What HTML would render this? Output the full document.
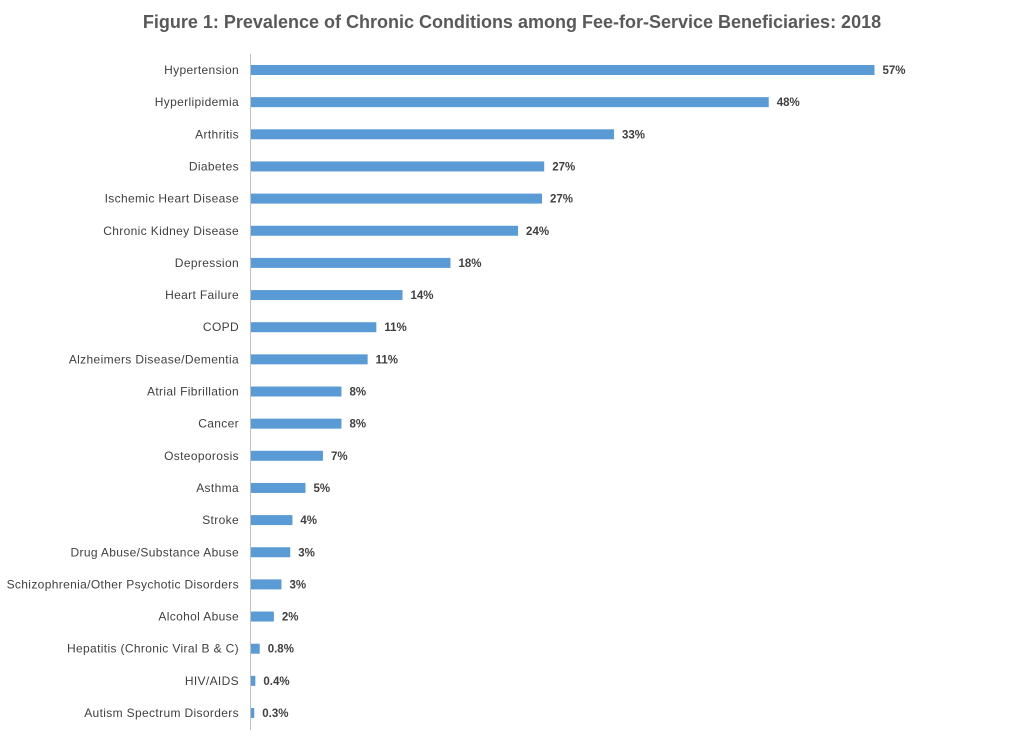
<!DOCTYPE html>
<html><head><meta charset="utf-8"><style>
html,body{margin:0;padding:0;background:#fff;}
svg{display:block;font-family:"Liberation Sans",sans-serif;}
</style></head><body>
<svg id="chart" width="1024" height="743">
<text x="512" y="28" text-anchor="middle" font-size="18" font-weight="bold" fill="#595959">Figure 1: Prevalence of Chronic Conditions among Fee-for-Service Beneficiaries: 2018</text>
<line x1="250.5" y1="54" x2="250.5" y2="730" stroke="#bfbfbf" stroke-width="1"/>
<g id="bars"></g>
</svg>
<script>
const categories=["Hypertension","Hyperlipidemia","Arthritis","Diabetes","Ischemic Heart Disease","Chronic Kidney Disease","Depression","Heart Failure","COPD","Alzheimers Disease/Dementia","Atrial Fibrillation","Cancer","Osteoporosis","Asthma","Stroke","Drug Abuse/Substance Abuse","Schizophrenia/Other Psychotic Disorders","Alcohol Abuse","Hepatitis (Chronic Viral B & C)","HIV/AIDS","Autism Spectrum Disorders"];
const values=[57.2,47.5,33.3,26.9,26.7,24.5,18.3,13.9,11.5,10.7,8.3,8.3,6.6,5.0,3.8,3.6,2.8,2.1,0.8,0.4,0.3];
const valueLabels=["57%","48%","33%","27%","27%","24%","18%","14%","11%","11%","8%","8%","7%","5%","4%","3%","3%","2%","0.8%","0.4%","0.3%"];
const x0=251, pxPer=10.9, yTop=70, step=32.15, bh=10;
const xs=v=>x0+v*pxPer;
const ys=i=>yTop+i*step;
const g=document.getElementById('bars');
const NS="http://www.w3.org/2000/svg";
categories.forEach((c,i)=>{
  const y=ys(i);
  const lab=document.createElementNS(NS,'text');
  
  
  lab.setAttribute('x',239);lab.setAttribute('y',y+4);
  lab.setAttribute('text-anchor','end');lab.setAttribute('font-size','12');
  lab.setAttribute('letter-spacing','0.35');
  lab.setAttribute('fill','#404040');
  lab.textContent=c;g.appendChild(lab);
  const r=document.createElementNS(NS,'rect');
  
  
  r.setAttribute('x',x0);r.setAttribute('y',y-bh/2);
  r.setAttribute('width',Math.max(1,xs(values[i])-x0));r.setAttribute('height',bh);
  r.setAttribute('fill','#5b9bd5');g.appendChild(r);
  const v=document.createElementNS(NS,'text');
  
  
  v.setAttribute('x',xs(values[i])+8);v.setAttribute('y',y+4);
  v.setAttribute('font-size','11.5');v.setAttribute('font-weight','bold');
  v.setAttribute('fill','#404040');
  v.textContent=valueLabels[i];g.appendChild(v);
});
</script>
</body></html>
